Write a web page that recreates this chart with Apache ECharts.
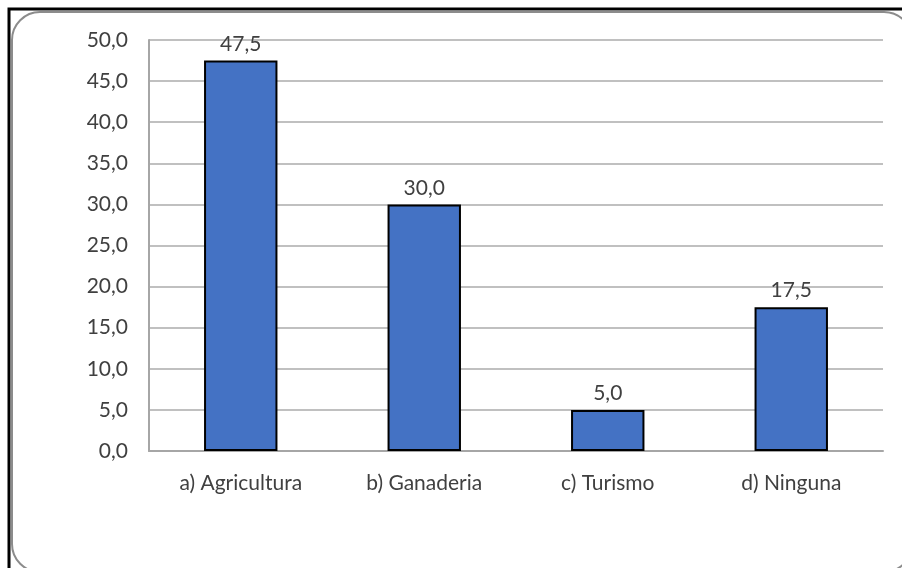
<!DOCTYPE html>
<html>
<head>
<meta charset="utf-8">
<script src="https://cdn.jsdelivr.net/npm/echarts@6/dist/echarts.min.js"></script>
<style>
html,body{margin:0;padding:0;background:#fff;}
#chart{width:902px;height:568px;}
</style>
</head>
<body>
<div id="chart"></div>
<script>
// Actividades económicas (%)
const categories = ['a) Agricultura', 'b) Ganaderia', 'c) Turismo', 'd) Ninguna'];
const values = [47.5, 30.0, 5.0, 17.5];
const yTicks = { min: 0, max: 50, interval: 5 };

const fmt = v => v.toFixed(1).replace('.', ',');
const FONT = 'Lato, "Open Sans", sans-serif';

const chart = echarts.init(document.getElementById('chart'));
chart.setOption({
  animation: false,
  backgroundColor: '#fff',
  graphic: [
    { type: 'rect', z: -10, shape: { x: 9, y: 9, width: 910, height: 580 },
      style: { fill: 'none', stroke: '#000', lineWidth: 3 } },
    { type: 'rect', z: -9, shape: { x: 12, y: 12, width: 900, height: 560, r: 28 },
      style: { fill: '#fff', stroke: '#8c8c8c', lineWidth: 2 } }
  ],
  grid: { left: 149, right: 19, top: 40, bottom: 117 },
  xAxis: {
    type: 'category',
    data: categories,
    axisLine: { lineStyle: { color: '#a6a6a6', width: 2 } },
    axisTick: { show: false },
    axisLabel: { color: '#404040', fontFamily: FONT, fontSize: 21, margin: 22 }
  },
  yAxis: {
    type: 'value',
    min: yTicks.min, max: yTicks.max, interval: yTicks.interval,
    axisLine: { show: true, lineStyle: { color: '#a6a6a6', width: 2 } },
    axisTick: { show: false },
    splitLine: { lineStyle: { color: '#c0c0c0', width: 2 } },
    axisLabel: { color: '#404040', fontFamily: FONT, fontSize: 21, margin: 21, formatter: fmt }
  },
  series: [{
    type: 'bar',
    data: values,
    barWidth: '40%',
    itemStyle: { color: '#4472c4', borderColor: '#000', borderWidth: 2 },
    label: {
      show: true, position: 'top', distance: 6,
      color: '#404040', fontFamily: FONT, fontSize: 21,
      formatter: p => fmt(p.value)
    }
  }]
});
</script>
</body>
</html>
